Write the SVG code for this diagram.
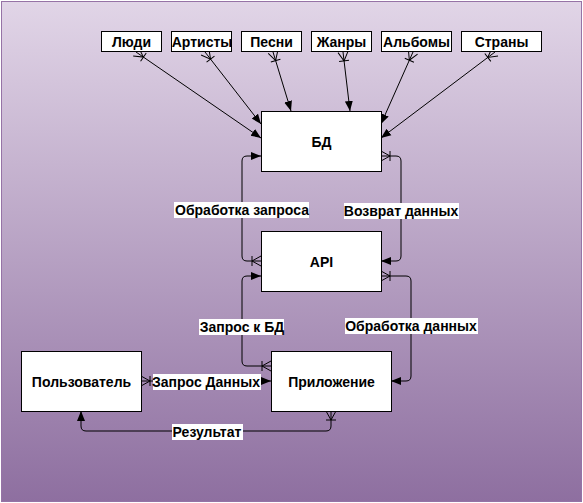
<svg xmlns="http://www.w3.org/2000/svg" width="583" height="503" viewBox="0 0 583 503">
<defs>
<linearGradient id="bg" x1="0" y1="0" x2="0" y2="1">
<stop offset="0" stop-color="#e1d5e7"/>
<stop offset="1" stop-color="#8e6fa0"/>
</linearGradient>
<marker id="arr" markerUnits="userSpaceOnUse" markerWidth="12" markerHeight="10" viewBox="0 0 12 10" refX="10" refY="5" orient="auto">
<path d="M0,1 L10,5 L0,9 z" fill="#000"/>
</marker>
<marker id="many" markerUnits="userSpaceOnUse" markerWidth="14" markerHeight="14" viewBox="-2 -7 14 14" refX="0" refY="0" orient="auto">
<path d="M0,-5 L9,0 L0,5 M9,-5 V5" fill="none" stroke="#000" stroke-width="1"/>
</marker>
</defs>
<style>
.box{fill:#fff;stroke:#000;stroke-width:1}
.t{font-family:"Liberation Sans",Arial,sans-serif;font-weight:bold;font-size:14px;text-anchor:middle;fill:#000}
.c{fill:none;stroke:#000;stroke-width:1;marker-start:url(#many);marker-end:url(#arr)}
.lb{fill:#fff}
</style>
<rect x="1.5" y="1.5" width="580" height="500" fill="url(#bg)" stroke="#9673a6"/>

<g id="connectors">
<path class="c" d="M136,52 L261,138"/>
<path class="c" d="M205,52 L261,124"/>
<path class="c" d="M273,52 L291,111"/>
<path class="c" d="M343,52 L350,111"/>
<path class="c" d="M413,52 L381,124"/>
<path class="c" d="M495,52 L381,138"/>
<path class="c" d="M261,261 H247 Q242,261 242,256 V161 Q242,156 247,156 H261"/>
<path class="c" d="M381,156 H396 Q401,156 401,161 V256 Q401,261 396,261 H381"/>
<path class="c" d="M271,366 H247 Q242,366 242,361 V281 Q242,276 247,276 H261"/>
<path class="c" d="M381,276 H406 Q411,276 411,281 V376 Q411,381 406,381 H391"/>
<path class="c" d="M141,381 H271"/>
<path class="c" d="M331,411 V426 Q331,431 326,431 H86 Q81,431 81,426 V411"/>
<g id="labels">
<rect class="lb" x="174" y="202" width="135" height="16"/>
<text class="t" x="242" y="215">Обработка запроса</text>
<rect class="lb" x="344" y="203" width="115" height="16"/>
<text class="t" x="401" y="216">Возврат данных</text>
<rect class="lb" x="199" y="319" width="85" height="16"/>
<text class="t" x="242" y="332">Запрос к БД</text>
<rect class="lb" x="345" y="318" width="133" height="16"/>
<text class="t" x="411" y="331">Обработка данных</text>
<rect class="lb" x="153" y="374" width="108" height="16"/>
<text class="t" x="206" y="387">Запрос Данных</text>
<rect class="lb" x="172" y="424" width="71" height="16"/>
<text class="t" x="207" y="437">Результат</text>
</g>
</g>

<g id="n-people"><rect class="box" x="101.5" y="31.5" width="60" height="20"/><text class="t" x="131.5" y="47">Люди</text></g>
<g id="n-artists"><rect class="box" x="171.5" y="31.5" width="60" height="20"/><text class="t" x="202" y="47">Артисты</text></g>
<g id="n-songs"><rect class="box" x="241.5" y="31.5" width="60" height="20"/><text class="t" x="271.5" y="47">Песни</text></g>
<g id="n-genres"><rect class="box" x="311.5" y="31.5" width="60" height="20"/><text class="t" x="341.5" y="47">Жанры</text></g>
<g id="n-albums"><rect class="box" x="381.5" y="31.5" width="70" height="20"/><text class="t" x="416.5" y="47">Альбомы</text></g>
<g id="n-countries"><rect class="box" x="461.5" y="31.5" width="80" height="20"/><text class="t" x="501.5" y="47">Страны</text></g>
<g id="n-db"><rect class="box" x="261.5" y="111.5" width="120" height="60"/><text class="t" x="321.5" y="147">БД</text></g>
<g id="n-api"><rect class="box" x="261.5" y="231.5" width="120" height="60"/><text class="t" x="321.5" y="267">API</text></g>
<g id="n-app"><rect class="box" x="271.5" y="351.5" width="120" height="60"/><text class="t" x="331.5" y="387">Приложение</text></g>
<g id="n-user"><rect class="box" x="21.5" y="351.5" width="120" height="60"/><text class="t" x="81.5" y="387">Пользователь</text></g>
</svg>
